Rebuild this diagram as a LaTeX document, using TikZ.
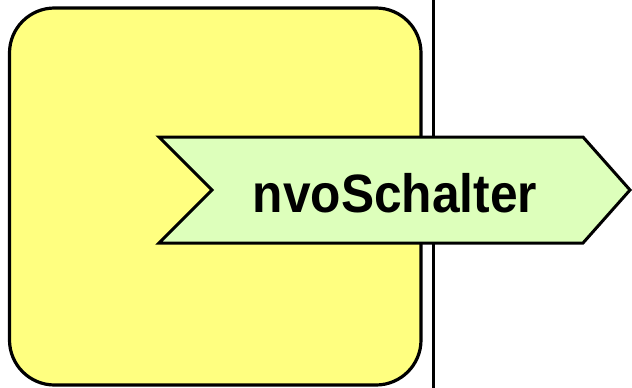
\documentclass[tikz,border=0pt]{standalone}
\usepackage{fontspec}
\usepackage{graphicx}
\setmainfont{Liberation Sans}
\definecolor{boxyellow}{RGB}{255,255,128}
\definecolor{sigGreen}{RGB}{221,255,187}
\tikzset{
  blockbox/.style={draw=black, line width=3.2pt, fill=boxyellow, rounded corners=45pt},
  sigshape/.style={draw=black, line width=3pt, fill=sigGreen, line join=miter},
  divider/.style={draw=black, line width=3pt},
  siglabel/.style={inner sep=0pt, font=\bfseries\fontsize{54}{60}\selectfont}
}
\begin{document}
\begin{tikzpicture}[x=1pt,y=-1pt]
\useasboundingbox (0,0) rectangle (632,388);
\draw[blockbox] (9.5,8) rectangle (421,385);
\coordinate (dtop) at (433.5,0);
\coordinate (dbot) at (433.5,388);
\draw[divider] (dtop) -- (dbot);
\draw[sigshape] (159,137) -- (583,137) -- (630,190) -- (583,243) -- (159,243) -- (212,190) -- cycle;
\node[siglabel, anchor=base] (lbl) at (395,212) {\scalebox{0.92}[1]{nvoSchalter}};
\end{tikzpicture}
\end{document}
